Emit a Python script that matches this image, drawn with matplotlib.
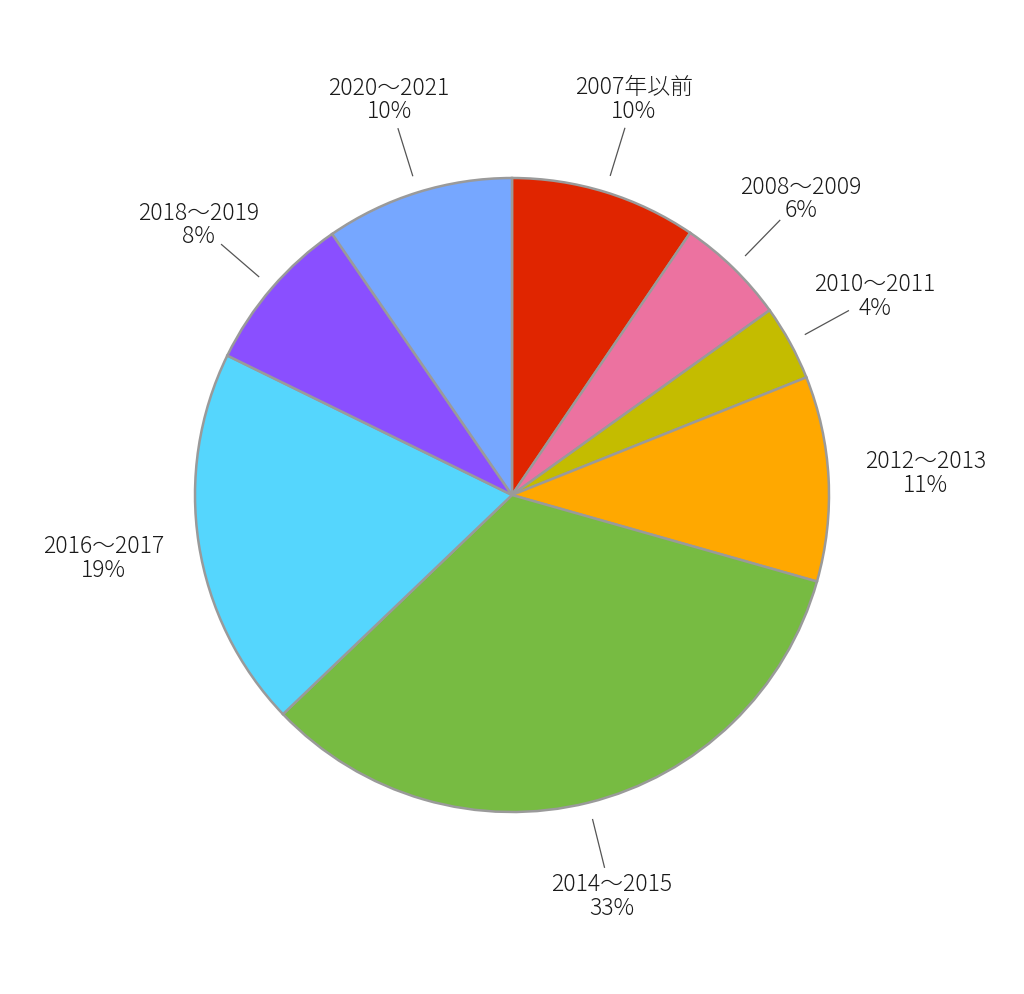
import numpy as np
import matplotlib
matplotlib.use("Agg")
import matplotlib.pyplot as plt

plt.rcParams['font.family'] = ['Noto Sans CJK JP', 'DejaVu Sans']

categories = ["2007年以前", "2008～2009", "2010～2011", "2012～2013",
              "2014～2015", "2016～2017", "2018～2019", "2020～2021"]
shares = [9.5, 5.6, 3.85, 10.45, 33.45, 19.4, 8.15, 9.6]
pct_labels = ["10%", "6%", "4%", "11%", "33%", "19%", "8%", "10%"]
show_leader = [True, True, True, False, True, False, True, True]
colors = ["#E02500", "#EC72A0", "#C4BC00", "#FFA800",
          "#77BB42", "#55D6FD", "#8A4FFF", "#76A7FF"]

W, H = 1024, 994
fig = plt.figure(figsize=(W / 100, H / 100), dpi=100)
cx, cy, R = 512, 495, 317
ax = fig.add_axes([(cx - R) / W, (H - cy - R) / H, 2 * R / W, 2 * R / H])
ax.axis('off')

wedges, _ = ax.pie(shares, colors=colors, startangle=90, counterclock=False,
                   radius=1.0, center=(0, 0),
                   wedgeprops=dict(edgecolor="#9A9A9A", linewidth=1.8))
ax.set_xlim(-1, 1)
ax.set_ylim(-1, 1)
ax.set_aspect('equal')

for w, cat, pct, lead in zip(wedges, categories, pct_labels, show_leader):
    ang = np.deg2rad((w.theta1 + w.theta2) / 2)
    ux, uy = np.cos(ang), np.sin(ang)
    if lead:
        ax.plot([1.055 * ux, 1.21 * ux], [1.055 * uy, 1.21 * uy],
                color="#555555", lw=0.9, clip_on=False)
    ax.text(1.305 * ux, 1.305 * uy, f"{cat}\n{pct}", ha="center", va="center",
            fontsize=16.5, fontweight="light", color="#1a1a1a",
            linespacing=0.92, clip_on=False)

fig.savefig("out.png", dpi=100, facecolor="white")
